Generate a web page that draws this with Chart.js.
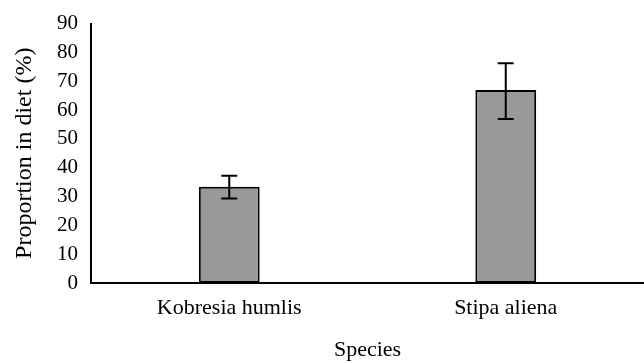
<!DOCTYPE html>
<html>
<head>
<meta charset="utf-8">
<script src="https://cdn.jsdelivr.net/npm/chart.js@4.4.0/dist/chart.umd.min.js"></script>
<style>
  html, body { margin: 0; padding: 0; background: #fff; }
  #wrap { width: 644px; height: 363px; }
</style>
</head>
<body>
<div id="wrap"><canvas id="chart" width="644" height="363"></canvas></div>
<script>
const especies = ["Kobresia humlis", "Stipa aliena"];
const proporcao = [33.4, 66.9];
const erroInferior = [29.3, 56.9];
const erroSuperior = [37.2, 76.2];
const ticksY = [0, 10, 20, 30, 40, 50, 60, 70, 80, 90];

const fonte = "'Liberation Serif', 'Times New Roman', serif";

// barras de erro desenhadas pelas escalas do próprio gráfico
const barrasErro = {
  id: "barrasErro",
  afterDatasetsDraw(chart) {
    const ctx = chart.ctx;
    const meta = chart.getDatasetMeta(0);
    const y = chart.scales.y;
    ctx.save();
    ctx.strokeStyle = "#000";
    ctx.lineWidth = 2;
    meta.data.forEach((bar, i) => {
      const x = bar.x;
      const yTop = y.getPixelForValue(erroSuperior[i]);
      const yBot = y.getPixelForValue(erroInferior[i]);
      ctx.beginPath();
      ctx.moveTo(x, yTop);
      ctx.lineTo(x, yBot);
      ctx.moveTo(x - 8, yTop);
      ctx.lineTo(x + 8, yTop);
      ctx.moveTo(x - 8, yBot);
      ctx.lineTo(x + 8, yBot);
      ctx.stroke();
    });
    ctx.restore();
  },
};

new Chart(document.getElementById("chart").getContext("2d"), {
  type: "bar",
  data: {
    labels: especies,
    datasets: [
      {
        data: proporcao,
        backgroundColor: "#999999",
        borderColor: "#000000",
        borderWidth: 2,
        borderSkipped: false,
        categoryPercentage: 1,
        barPercentage: 0.22,
      },
    ],
  },
  options: {
    responsive: false,
    animation: false,
    layout: { padding: { top: 11, right: 0, left: 0, bottom: 0 } },
    plugins: { legend: { display: false }, tooltip: { enabled: false } },
    scales: {
      y: {
        min: 0,
        max: 90,
        afterBuildTicks: (axis) => { axis.ticks = ticksY.map((v) => ({ value: v })); },
        afterFit: (axis) => { axis.width = 91; },
        grid: { display: false, drawTicks: false },
        border: { display: true, color: "#000", width: 2 },
        ticks: { color: "#000", padding: 13, font: { family: fonte, size: 21, lineHeight: 1 } },
        title: {
          display: true,
          text: "Proportion in diet (%)",
          color: "#000",
          padding: { top: 10, bottom: 0 },
          font: { family: fonte, size: 24 },
        },
      },
      x: {
        afterFit: (axis) => { axis.height = 80; },
        grid: { display: false, drawTicks: false },
        border: { display: true, color: "#000", width: 2 },
        ticks: { color: "#000", padding: 12, font: { family: fonte, size: 22 } },
        title: {
          display: true,
          text: "Species",
          color: "#000",
          padding: { top: 10, bottom: 0 },
          font: { family: fonte, size: 22 },
        },
      },
    },
  },
  plugins: [barrasErro],
});
</script>
</body>
</html>
